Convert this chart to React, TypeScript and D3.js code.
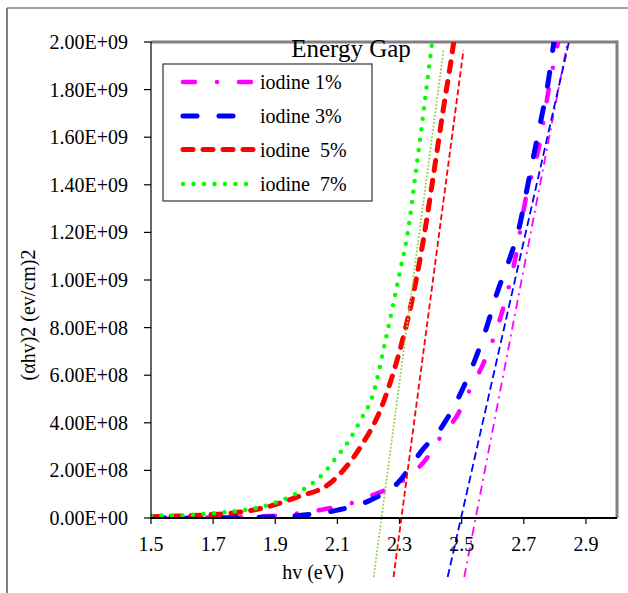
import React from "react";
import * as d3 from "d3";

// ---- data ----
const seriesNames = ["iodine 1%", "iodine 3%", "iodine  5%", "iodine  7%"];

const energy1 = [1.5, 1.7, 1.9, 2.05, 2.15, 2.23, 2.26, 2.32, 2.39, 2.43, 2.485, 2.527, 2.57, 2.63, 2.674, 2.706, 2.752, 2.78, 2.81, 2.825];
const alpha1 = [0, 0.02e8, 0.1e8, 0.35e8, 0.65e8, 1.05e8, 1.2e8, 1.65e8, 2.55e8, 3.36e8, 4.3e8, 5.4e8, 6.5e8, 8.65e8, 11.0e8, 13.4e8, 15.8e8, 18.0e8, 20.0e8, 21e8];

const energy3 = [1.5, 1.7, 1.9, 1.97, 2.1, 2.206, 2.294, 2.37, 2.44, 2.497, 2.54, 2.58, 2.615, 2.652, 2.685, 2.71, 2.733, 2.755, 2.777, 2.797, 2.81];
const alpha3 = [0, 0.01e8, 0.05e8, 0.1e8, 0.33e8, 0.75e8, 1.47e8, 2.8e8, 3.9e8, 5.25e8, 6.55e8, 8.0e8, 9.5e8, 10.8e8, 12.2e8, 13.8e8, 15.3e8, 16.7e8, 18.2e8, 20.0e8, 21e8];

const energy5 = [1.5, 1.59, 1.7, 1.755, 1.86, 1.97, 2.077, 2.174, 2.237, 2.28, 2.318, 2.345, 2.382, 2.408, 2.44, 2.469, 2.485];
const alpha5 = [0.05e8, 0.08e8, 0.15e8, 0.2e8, 0.42e8, 0.88e8, 1.47e8, 2.98e8, 4.5e8, 6.1e8, 7.9e8, 9.45e8, 12.1e8, 14.3e8, 17.1e8, 19.5e8, 21e8];

const energy7 = [1.5, 1.57, 1.7, 1.78, 1.84, 1.906, 1.97, 2.05, 2.1, 2.132, 2.174, 2.216, 2.253, 2.28, 2.302, 2.324, 2.356, 2.388, 2.405, 2.42];
const alpha7 = [0.1e8, 0.1e8, 0.2e8, 0.3e8, 0.42e8, 0.67e8, 1.05e8, 1.8e8, 2.6e8, 3.15e8, 4.1e8, 5.25e8, 7.35e8, 9.0e8, 10.4e8, 11.8e8, 14.9e8, 18.2e8, 20.0e8, 21.5e8];

// linear fits (tangent lines): x-intercept (band gap), slope, top value
const fitGap = [2.545, 2.498, 2.306, 2.242];
const fitSlope = [6.76e9, 5.76e9, 9.84e9, 9.84e9];
const fitTop = [19.9e8, 19.96e8, 19.66e8, 19.66e8];
const fitBottom = -2.48e8;

const xTicks = [1.5, 1.7, 1.9, 2.1, 2.3, 2.5, 2.7, 2.9];
const yTicks = [0, 2e8, 4e8, 6e8, 8e8, 10e8, 12e8, 14e8, 16e8, 18e8, 20e8];

// ---- styles ----
const colors = ["#FF00FF", "#0000FF", "#FF0000", "#00FF00"];
const fitColors = ["#FF00FF", "#0000FF", "#FF0000", "#92D050"];
const curveDash = ["12 22 0 22", "14 22", "10 10", "0 10.5"];
const curveWidth = [4.5, 5, 5, 4.5];
const fitDash = ["9 5 2 5", "8 4", "6 3", "1.8 1.8"];
const fitWidth = [1.8, 1.8, 1.8, 1.8];

const W = 628;
const H = 593;
const L = 151, R = 617, T = 42, B = 518;
const FONT = "'Liberation Serif', 'Times New Roman', serif";

const fmtY = (v: number) => {
  const [m, e] = v.toExponential(2).split("e");
  const n = parseInt(e, 10);
  return `${m}E${n < 0 ? "-" : "+"}${String(Math.abs(n)).padStart(2, "0")}`;
};

export default function App() {
  const x = d3.scaleLinear().domain([1.5, 3.0]).range([L, R]);
  const y = d3.scaleLinear().domain([0, 2e9]).range([B, T]);

  const series = [
    [energy1, alpha1],
    [energy3, alpha3],
    [energy5, alpha5],
    [energy7, alpha7],
  ];

  const line = d3
    .line<[number, number]>()
    .x((d) => x(d[0]))
    .y((d) => y(d[1]))
    .curve(d3.curveMonotoneX);

  const legendRows = [82, 116, 149.5, 184];

  return (
    <svg
      width={W}
      height={H}
      style={{ position: "absolute", left: 0, top: 0, background: "#fff" }}
      fontFamily={FONT}
    >
      <defs>
        <clipPath id="plotClip">
          <rect x={L} y={T} width={R - L} height={B - T} />
        </clipPath>
      </defs>
      {/* outer frame */}
      <line x1={7} y1={8} x2={W} y2={8} stroke="#808080" strokeWidth={1.5} />
      <line x1={7} y1={8} x2={7} y2={H} stroke="#808080" strokeWidth={2} />

      {/* plot border top/right */}
      <line x1={L} y1={T} x2={R} y2={T} stroke="#808080" strokeWidth={3} />
      <line x1={R} y1={T - 1.5} x2={R} y2={B} stroke="#808080" strokeWidth={3} />

      {/* curves */}
      <g clipPath="url(#plotClip)">
        {series.map(([xs, ys], i) => (
          <path
            key={i}
            d={line(xs.map((v, k) => [v, ys[k]] as [number, number])) || ""}
            fill="none"
            stroke={colors[i]}
            strokeWidth={curveWidth[i]}
            strokeDasharray={curveDash[i]}
            strokeLinecap="round"
          />
        ))}
      </g>

      {/* fit lines */}
      {fitGap.map((g, i) => (
        <line
          key={i}
          x1={x(g + fitBottom / fitSlope[i])}
          y1={y(fitBottom)}
          x2={x(g + fitTop[i] / fitSlope[i])}
          y2={y(fitTop[i])}
          stroke={fitColors[i]}
          strokeWidth={fitWidth[i]}
          strokeDasharray={fitDash[i]}
        />
      ))}

      {/* axes */}
      <line x1={L} y1={T} x2={L} y2={B} stroke="#000" strokeWidth={1.2} />
      <line x1={L - 1} y1={B} x2={R} y2={B} stroke="#000" strokeWidth={2} />
      {yTicks.map((t) => (
        <g key={t}>
          <line x1={L - 7} x2={L} y1={y(t)} y2={y(t)} stroke="#000" strokeWidth={1.2} />
          <text x={128} y={y(t) + 7} textAnchor="end" fontSize={20} fill="#000">
            {fmtY(t)}
          </text>
        </g>
      ))}
      {xTicks.map((t) => (
        <g key={t}>
          <line x1={x(t)} x2={x(t)} y1={B} y2={B + 6} stroke="#000" strokeWidth={1.2} />
          <text x={x(t)} y={551} textAnchor="middle" fontSize={20} fill="#000">
            {t.toFixed(1)}
          </text>
        </g>
      ))}

      {/* axis titles */}
      <text x={313} y={579} textAnchor="middle" fontSize={20} fill="#000">
        hv (eV)
      </text>
      <text
        transform="translate(35,315) rotate(-90)"
        textAnchor="middle"
        fontSize={20}
        fill="#000"
      >
        (αhv)2 (ev/cm)2
      </text>

      {/* title */}
      <text x={351} y={57} textAnchor="middle" fontSize={25} fill="#000">
        Energy Gap
      </text>

      {/* legend */}
      <rect x={163} y={64} width={209} height={137} fill="#fff" stroke="#333" strokeWidth={1.2} />
      {seriesNames.map((name, i) => (
        <g key={name}>
          <line
            x1={183}
            x2={254}
            y1={legendRows[i]}
            y2={legendRows[i]}
            stroke={colors[i]}
            strokeWidth={curveWidth[i]}
            strokeDasharray={curveDash[i]}
            strokeLinecap="round"
          />
          <text x={260} y={legendRows[i] + 7} fontSize={20} fill="#000" style={{ whiteSpace: "pre" }}>
            {name}
          </text>
        </g>
      ))}
    </svg>
  );
}
